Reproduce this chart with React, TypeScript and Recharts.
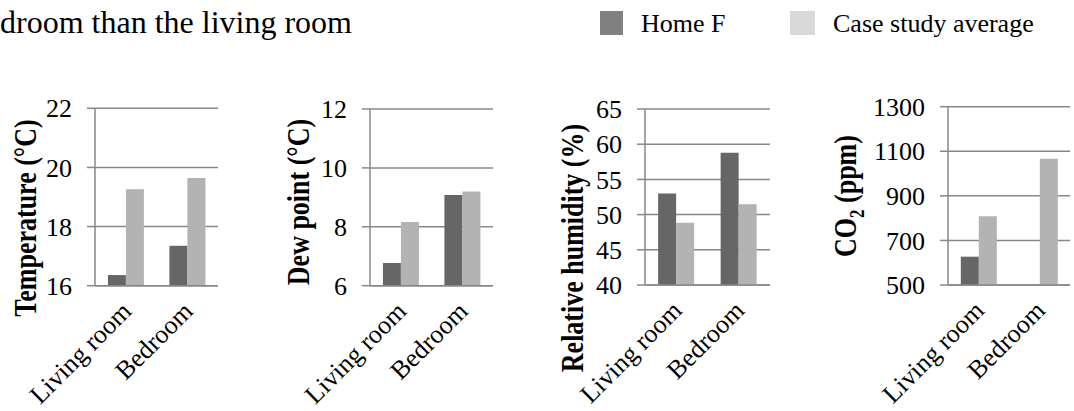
import { BarChart, Bar, XAxis, YAxis, CartesianGrid, Label } from 'recharts';

const FONT = '"Liberation Serif", "Times New Roman", serif';
const GRID = '#888888';
const DARK = '#666666';
const LIGHT = '#b3b3b3';
const AXIS_W = 130;

const rooms = ['Living room', 'Bedroom'];

const temperatureHome = [16.36, 17.35];
const temperatureAvg = [19.26, 19.64];
const temperatureTicks = [16, 18, 20, 22];

const dewPointHome = [6.77, 9.08];
const dewPointAvg = [8.16, 9.2];
const dewPointTicks = [6, 8, 10, 12];

const humidityHome = [53.0, 58.8];
const humidityAvg = [48.85, 51.46];
const humidityTicks = [40, 45, 50, 55, 60, 65];

const co2Home = [627, null];
const co2Avg = [808, 1066];
const co2Ticks = [500, 700, 900, 1100, 1300];

const RoomTick = (props: any) => {
  const { x, y, payload } = props;
  return (
    <g transform={`translate(${x + 7},${y + 27})`}>
      <text textAnchor="end" transform="rotate(-45)" fontSize={26} fontFamily={FONT} fill="#000">
        {payload.value}
      </text>
    </g>
  );
};

const ValueTick = (props: any) => {
  const { x, y, payload } = props;
  return (
    <text x={x} y={y} dy="0.35em" textAnchor="end" fontSize={26} fontFamily={FONT} fill="#000">
      {payload.value}
    </text>
  );
};

type PanelProps = {
  home: (number | null)[];
  avg: number[];
  ticks: number[];
  axisX: number;
  plotTop: number;
  plotBottom: number;
  plotW: number;
  title: React.ReactNode;
  titleX: number;
  titleY: number;
};

const Panel = ({ home, avg, ticks, axisX, plotTop, plotBottom, plotW, title, titleX, titleY }: PanelProps) => {
  const data = rooms.map((room, i) => ({ room, home: home[i], avg: avg[i] }));
  const left = axisX - AXIS_W;
  const tx = titleX + AXIS_W - 110;
  return (
    <div style={{ position: 'absolute', left, top: 90 }}>
      <BarChart
        width={AXIS_W + plotW + 4}
        height={321}
        data={data}
        margin={{ top: plotTop - 90, right: 4, left: 0, bottom: 411 - plotBottom - 2 }}
        barCategoryGap="21%"
        barGap={0}
      >
        <CartesianGrid vertical={false} stroke={GRID} strokeWidth={1.5} />
        <XAxis
          xAxisId="edge"
          type="number"
          domain={[0, 2]}
          ticks={[0, 1, 2]}
          allowDataOverflow
          tick={false}
          tickSize={7}
          tickLine={{ stroke: GRID, strokeWidth: 1.5 }}
          axisLine={false}
          height={1}
        />
        <XAxis
          dataKey="room"
          interval={0}
          tick={<RoomTick />}
          tickLine={false}
          tickSize={0}
          tickMargin={0}
          axisLine={{ stroke: GRID, strokeWidth: 1.5 }}
          height={1}
        />
        <YAxis
          width={AXIS_W}
          domain={[ticks[0], ticks[ticks.length - 1]]}
          ticks={ticks}
          interval={0}
          tickSize={8}
          tickMargin={15}
          tickLine={{ stroke: GRID, strokeWidth: 1.5 }}
          axisLine={{ stroke: GRID, strokeWidth: 1.5 }}
          tick={<ValueTick />}
        >
          <Label
            content={() => (
              <text
                x={0}
                y={0}
                transform={`translate(${tx} ${titleY}) scale(1.2 1) rotate(-90)`}
                textAnchor="middle"
                fontSize={26}
                fontWeight="bold"
                fontFamily={FONT}
                fill="#000"
              >
                {title}
              </text>
            )}
          />
        </YAxis>
        <Bar dataKey="home" fill={DARK} isAnimationActive={false} />
        <Bar dataKey="avg" fill={LIGHT} isAnimationActive={false} />
      </BarChart>
    </div>
  );
};

const App = () => {
  return (
    <div style={{ position: 'absolute', left: 0, top: 0, width: 1074, height: 411, overflow: 'hidden', background: '#fff', fontFamily: FONT }}>
      <div style={{ position: 'absolute', left: 0, top: 6, fontSize: 32, lineHeight: '32px', whiteSpace: 'nowrap', color: '#000' }}>
        droom than the living room
      </div>

      <div style={{ position: 'absolute', left: 600, top: 11, width: 23, height: 24, background: '#808080' }} />
      <div style={{ position: 'absolute', left: 641, top: 11, fontSize: 26, lineHeight: '26px', whiteSpace: 'nowrap' }}>Home F</div>
      <div style={{ position: 'absolute', left: 790, top: 11, width: 25, height: 24, background: '#d9d9d9' }} />
      <div style={{ position: 'absolute', left: 833, top: 11, fontSize: 26, lineHeight: '26px', whiteSpace: 'nowrap' }}>Case study average</div>

      <Panel
        home={temperatureHome}
        avg={temperatureAvg}
        ticks={temperatureTicks}
        axisX={95}
        plotTop={108.3}
        plotBottom={285.7}
        plotW={123}
        title="Temperature (°C)"
        titleX={51}
        titleY={128}
      />
      <Panel
        home={dewPointHome}
        avg={dewPointAvg}
        ticks={dewPointTicks}
        axisX={370}
        plotTop={109}
        plotBottom={285.7}
        plotW={123}
        title="Dew point (°C)"
        titleX={49}
        titleY={112}
      />
      <Panel
        home={humidityHome}
        avg={humidityAvg}
        ticks={humidityTicks}
        axisX={645}
        plotTop={109}
        plotBottom={285}
        plotW={125}
        title="Relative humidity (%)"
        titleX={48}
        titleY={158}
      />
      <Panel
        home={co2Home}
        avg={co2Avg}
        ticks={co2Ticks}
        axisX={948}
        plotTop={106.7}
        plotBottom={285}
        plotW={122}
        title={
          <>
            CO<tspan fontSize={17} dy={7}>2</tspan>
            <tspan dy={-7}> (ppm)</tspan>
          </>
        }
        titleX={18}
        titleY={106}
      />
    </div>
  );
};

export default App;
